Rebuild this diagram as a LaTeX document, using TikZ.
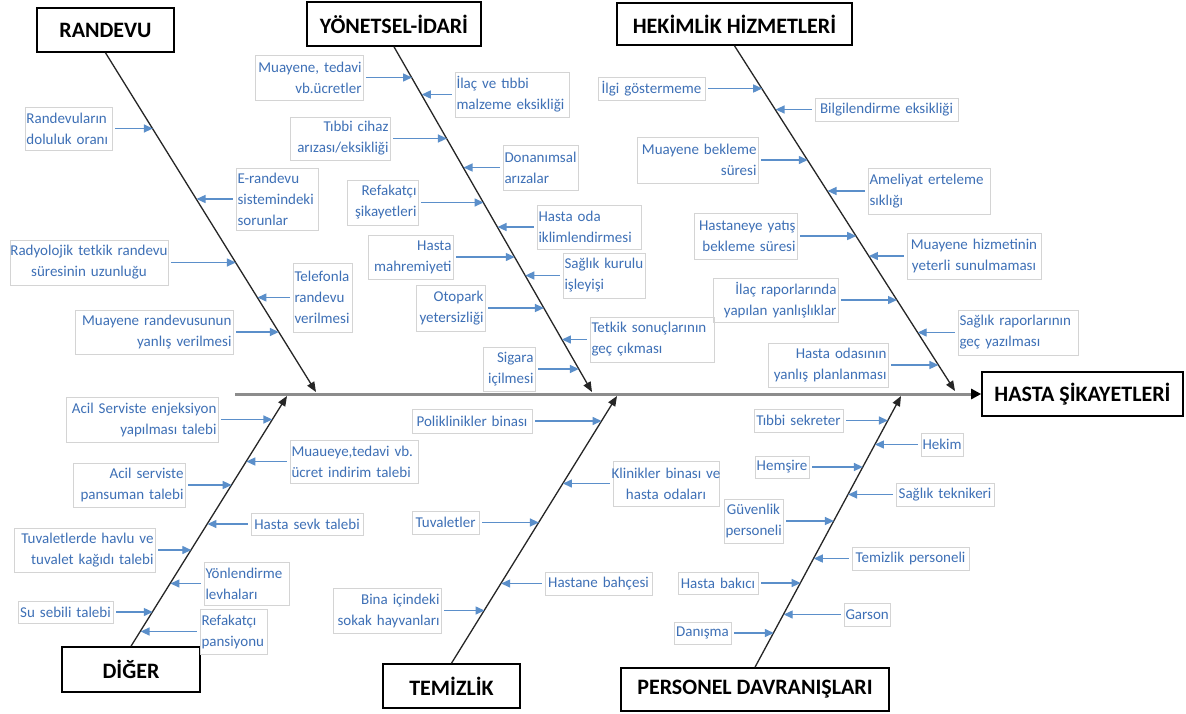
\documentclass[tikz,border=0pt]{standalone}
\usepackage{fontspec}
\setmainfont{Carlito}
\usetikzlibrary{arrows.meta,calc}
\definecolor{tblue}{HTML}{3E70B6}
\definecolor{ablue}{HTML}{5B8FCA}
\definecolor{lgray}{HTML}{D4D4D4}
\definecolor{sgray}{HTML}{8C8C8C}
\newcommand\lblfont{\fontsize{15}{21}\selectfont}
\newcommand\catfont{\bfseries\fontsize{22}{24}\selectfont}
\newcommand\oneline[1]{\makebox[\hsize][c]{#1}}
\tikzset{
  lbl/.style={draw=lgray, line width=0.6pt, text=tblue, font=\lblfont, inner xsep=1.5pt, inner ysep=0pt},
  barrow/.style={draw=ablue, line width=1.4pt, shorten <=3pt, -{Triangle[length=9pt,width=8pt]}},
  bone/.style={draw=black!85, line width=1.3pt, -{Triangle[length=10pt,width=8pt]}},
  spine/.style={draw=sgray, line width=3pt, -{Triangle[length=10pt,width=10pt,color=black]}},
  catbox/.style={draw=black, line width=1.6pt, fill=white, font=\catfont, inner sep=0pt}
}
\newcommand\setbone[4]{\def\bsx{#1}\def\bsy{#2}\def\bex{#3}\def\bey{#4}}
\newcommand\labcore[7]{%
  \pgfmathsetmacro\lbw{#4-#2-3}%
  \pgfmathsetmacro\lbh{#5-#3}%
  \pgfmathsetmacro\lbx{(#2+#4)/2}%
  \pgfmathsetmacro\lby{(#3+#5)/2}%
  \pgfmathsetmacro\lbs{(\bex-\bsx)/(\bey-\bsy)}%
  \pgfmathsetmacro\lbt{\bsx+\lbs*(\lby-\bsy)}%
  \node[lbl,align=#6,text width=\lbw pt,minimum height=\lbh pt] (#1) at (\lbx,\lby) {#7};%
  \coordinate (#1-t) at (\lbt,\lby);}
\newcommand\labL[7]{\labcore{#1}{#2}{#3}{#4}{#5}{#6}{#7}\draw[barrow] (#1.east) -- (#1-t);}
\newcommand\labR[7]{\labcore{#1}{#2}{#3}{#4}{#5}{#6}{#7}\draw[barrow] (#1.west) -- (#1-t);}
\newcommand\catnode[6]{%
  \pgfmathsetmacro\lbw{#4-#2}%
  \pgfmathsetmacro\lbh{#5-#3}%
  \pgfmathsetmacro\lbx{(#2+#4)/2}%
  \pgfmathsetmacro\lby{(#3+#5)/2}%
  \node[catbox,minimum width=\lbw pt,minimum height=\lbh pt] (#1) at (\lbx,\lby) {#6};}
\begin{document}
\begin{tikzpicture}[x=1pt,y=-1pt]
\useasboundingbox (0,0) rectangle (1186,713);
\fill[white] (0,0) rectangle (1186,713);

% category boxes
\catnode{randevu}{37}{8}{174}{52}{RANDEVU}
\catnode{yonetsel}{307}{2}{481}{46}{YÖNETSEL-İDARİ}
\catnode{hekim}{617}{3}{852}{45}{HEKİMLİK HİZMETLERİ}
\catnode{diger}{62}{647}{200}{692}{DİĞER}
\catnode{temizlik}{383}{664}{520}{708}{TEMİZLİK}
\catnode{personel}{621}{668}{889}{711}{PERSONEL DAVRANIŞLARI}
\catnode{hasta}{982}{372}{1183}{416}{HASTA ŞİKAYETLERİ}

% spine
\coordinate (spst) at (235,394);
\draw[spine] (spst) -- (hasta.west);

% bones
\coordinate (rtip) at (316,392);
\coordinate (ytip) at (592,392);
\coordinate (htip) at (955,391);
\coordinate (dtip) at (287,396);
\coordinate (ttip) at (617,396);
\coordinate (ptip) at (901,396);
\draw[bone] (randevu.south) -- (rtip);
\draw[bone] (yonetsel.south) -- (ytip);
\draw[bone] (hekim.south) -- (htip);
\draw[bone] (diger.north) -- (dtip);
\draw[bone] (temizlik.north) -- (ttip);
\draw[bone] (personel.north) -- (ptip);

% RANDEVU
\setbone{105.5}{52}{316}{392}
\labL{r1}{25}{107}{112}{150}{left}{Randevuların\\doluluk oranı}
\labR{r2}{236}{168}{318}{230}{left}{E-randevu\\sistemindeki\\sorunlar}
\labL{r3}{10}{240}{168}{285}{center}{\oneline{Radyolojik tetkik randevu}\\süresinin uzunluğu}
\labR{r4}{293}{263}{352}{332}{left}{Telefonla\\randevu\\verilmesi}
\labL{r5}{75}{310}{233}{354}{right}{Muayene randevusunun\\yanlış verilmesi}

% YONETSEL-IDARI
\setbone{394}{46}{592}{392}
\labL{y1}{255}{55}{363}{100}{right}{Muayene, tedavi\\vb.ücretler}
\labR{y2}{455}{72}{569}{117}{left}{İlaç ve tıbbi\\malzeme eksikliği}
\labL{y3}{290}{117}{390}{160}{right}{Tıbbi cihaz\\arızası/eksikliği}
\labR{y4}{503}{145}{578}{190}{left}{Donanımsal\\arızalar}
\labL{y5}{347}{180}{418}{225}{right}{Refakatçı\\şikayetleri}
\labR{y6}{537}{205}{641}{249}{left}{Hasta oda\\iklimlendirmesi}
\labL{y7}{368}{235}{453}{279}{right}{Hasta\\mahremiyeti}
\labR{y8}{563}{253}{645}{298}{left}{Sağlık kurulu\\ işleyişi}
\labL{y9}{416}{285}{485}{331}{right}{Otopark\\yetersizliği}
\labR{y10}{590}{317}{714}{362}{left}{Tetkik sonuçlarının\\geç çıkması}
\labL{y11}{483}{347}{535}{391}{right}{Sigara\\içilmesi}

% HEKIMLIK
\setbone{734.5}{45}{955}{391}
\labL{h1}{598}{77}{705}{100}{center}{İlgi göstermeme}
\labR{h2}{815}{98}{958}{121}{center}{Bilgilendirme eksikliği}
\labL{h3}{637}{137}{758}{183}{right}{Muayene bekleme\\süresi}
\labR{h4}{868}{168}{990}{214}{left}{Ameliyat erteleme\\ sıklığı}
\labL{h5}{694}{213}{797}{259}{right}{Hastaneye yatış\\bekleme süresi}
\labR{h6}{907}{233}{1041}{279}{center}{Muayene hizmetinin\\yeterli sunulmaması}
\labL{h7}{713}{278}{838}{322}{right}{İlaç raporlarında\\yapılan yanlışlıklar}
\labR{h8}{958}{310}{1078}{355}{left}{Sağlık raporlarının\\geç yazılması}
\labL{h9}{768}{343}{888}{387}{right}{Hasta odasının\\yanlış planlanması}

% DIGER
\setbone{131}{647}{287}{396}
\labL{d1}{66}{397}{218}{442}{right}{Acil Serviste enjeksiyon\\yapılması talebi}
\labR{d2}{290}{440}{418}{483}{left}{Muaueye,tedavi vb.\\ücret indirim talebi}
\labL{d3}{73}{463}{185}{507}{right}{Acil serviste\\pansuman talebi}
\labR{d4}{251}{513}{363}{535}{center}{Hasta sevk talebi}
\labL{d5}{14}{528}{155}{572}{right}{Tuvaletlerde havlu ve\\tuvalet kağıdı talebi}
\labR{d6}{204}{562}{289}{605}{left}{Yönlendirme\\levhaları}
\labL{d7}{18}{601}{113}{623}{center}{Su sebili talebi}
\labR{d8}{200}{609}{267}{654}{left}{Refakatçı\\pansiyonu}

% TEMIZLIK
\setbone{451.5}{664}{617}{396}
\labL{t1}{412}{409}{532}{433}{center}{Poliklinikler binası}
\labR{t2}{613}{461}{719}{506}{center}{\oneline{Klinikler binası ve}\\hasta odaları}
\labL{t3}{412}{511}{479}{534}{center}{Tuvaletler}
\labR{t4}{545}{572}{652}{595}{center}{Hastane bahçesi}
\labL{t5}{333}{588}{441}{633}{right}{Bina içindeki\\sokak hayvanları}

% PERSONEL DAVRANISLARI
\setbone{755}{668}{901}{396}
\labL{p1}{754}{409}{843}{432}{center}{Tıbbi sekreter}
\labR{p2}{921}{433}{963}{456}{center}{Hekim}
\labL{p3}{755}{456}{809}{478}{center}{Hemşire}
\labR{p4}{896}{483}{994}{506}{center}{Sağlık teknikeri}
\labL{p5}{724}{499}{783}{543}{center}{Güvenlik\\personeli}
\labR{p6}{852}{547}{969}{570}{center}{Temizlik personeli}
\labL{p7}{678}{572}{758}{594}{center}{Hasta bakıcı}
\labR{p8}{844}{603}{890}{626}{center}{Garson}
\labL{p9}{674}{622}{731}{644}{center}{Danışma}
\end{tikzpicture}
\end{document}
